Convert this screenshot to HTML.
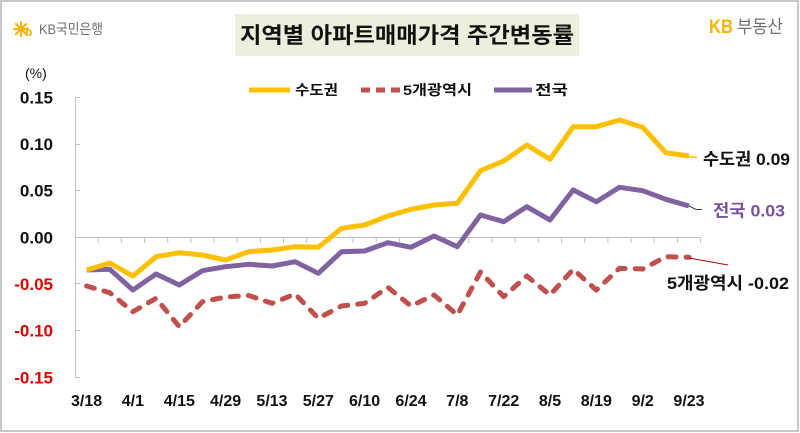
<!DOCTYPE html>
<html><head><meta charset="utf-8">
<style>
html,body{margin:0;padding:0;background:#fff;}
svg{display:block;}
text{font-family:"Liberation Sans","Noto Sans CJK KR","NanumGothic",sans-serif;}
</style></head>
<body>
<svg width="800" height="433" viewBox="0 0 800 433" xmlns="http://www.w3.org/2000/svg">
<rect x="0" y="0" width="800" height="433" fill="#fff"/>
<rect x="1" y="1" width="797" height="430" fill="none" stroke="#c8c8c8" stroke-width="2"/>

<!-- KB logo -->
<g stroke="#f5b400" stroke-width="2" stroke-linecap="round" fill="none">
<line x1="21" y1="22" x2="21" y2="36"/>
<line x1="14" y1="29" x2="28" y2="29"/>
<line x1="16" y1="24" x2="26" y2="34"/>
<line x1="26" y1="24" x2="16" y2="34"/>
</g>
<text x="25" y="36" font-size="12" fill="#f5b400" font-weight="bold">b</text>
<text x="39" y="34" font-size="14" fill="#6f6f6f" textLength="64" lengthAdjust="spacingAndGlyphs">KB국민은행</text>

<!-- Title -->
<rect x="235" y="14" width="344" height="42" fill="#ebefdc"/>
<text x="240" y="43" font-size="22" font-weight="bold" fill="#111" textLength="334" lengthAdjust="spacingAndGlyphs">지역별 아파트매매가격 주간변동률</text>

<!-- KB부동산 -->
<text x="709" y="33" font-size="19" font-weight="bold" fill="#f5b400" textLength="24" lengthAdjust="spacingAndGlyphs">KB</text>
<text x="737" y="33" font-size="18" fill="#6f6f6f" textLength="46" lengthAdjust="spacingAndGlyphs">부동산</text>

<!-- (%) -->
<text x="25" y="78" font-size="14" fill="#111">(%)</text>

<!-- Legend -->
<line x1="249" y1="90" x2="290" y2="90" stroke="#fcc000" stroke-width="5"/>
<text x="295" y="95" font-size="14" font-weight="bold" fill="#111" textLength="43" lengthAdjust="spacingAndGlyphs">수도권</text>
<line x1="361" y1="90" x2="400" y2="90" stroke="#c0504d" stroke-width="5" stroke-dasharray="9 6"/>
<text x="403" y="95" font-size="14" font-weight="bold" fill="#111" textLength="69" lengthAdjust="spacingAndGlyphs">5개광역시</text>
<line x1="494" y1="90" x2="532" y2="90" stroke="#7f63a1" stroke-width="5"/>
<text x="535" y="95" font-size="14" font-weight="bold" fill="#111" textLength="33" lengthAdjust="spacingAndGlyphs">전국</text>

<!-- Y axis -->
<g stroke="#bfbfbf" stroke-width="1" fill="none">
<line x1="75.5" y1="97" x2="75.5" y2="378"/>
<line x1="75.5" y1="97.5" x2="80" y2="97.5"/>
<line x1="75.5" y1="144.5" x2="80" y2="144.5"/>
<line x1="75.5" y1="190.5" x2="80" y2="190.5"/>
<line x1="75.5" y1="330.5" x2="80" y2="330.5"/>
<line x1="75.5" y1="377.5" x2="80" y2="377.5"/>
<line x1="75.5" y1="283.5" x2="80" y2="283.5"/>
<line x1="75" y1="237.5" x2="701" y2="237.5"/>
</g>
<g stroke="#bfbfbf" stroke-width="1">
<line x1="98.2" y1="237.5" x2="98.2" y2="243"/><line x1="121.3" y1="237.5" x2="121.3" y2="243"/>
<line x1="144.5" y1="237.5" x2="144.5" y2="243"/><line x1="167.7" y1="237.5" x2="167.7" y2="243"/>
<line x1="190.9" y1="237.5" x2="190.9" y2="243"/><line x1="214" y1="237.5" x2="214" y2="243"/>
<line x1="237.2" y1="237.5" x2="237.2" y2="243"/><line x1="260.4" y1="237.5" x2="260.4" y2="243"/>
<line x1="283.5" y1="237.5" x2="283.5" y2="243"/><line x1="306.7" y1="237.5" x2="306.7" y2="243"/>
<line x1="329.9" y1="237.5" x2="329.9" y2="243"/><line x1="353" y1="237.5" x2="353" y2="243"/>
<line x1="376.2" y1="237.5" x2="376.2" y2="243"/><line x1="399.4" y1="237.5" x2="399.4" y2="243"/>
<line x1="422.6" y1="237.5" x2="422.6" y2="243"/><line x1="445.7" y1="237.5" x2="445.7" y2="243"/>
<line x1="468.9" y1="237.5" x2="468.9" y2="243"/><line x1="492.1" y1="237.5" x2="492.1" y2="243"/>
<line x1="515.2" y1="237.5" x2="515.2" y2="243"/><line x1="538.4" y1="237.5" x2="538.4" y2="243"/>
<line x1="561.6" y1="237.5" x2="561.6" y2="243"/><line x1="584.7" y1="237.5" x2="584.7" y2="243"/>
<line x1="607.9" y1="237.5" x2="607.9" y2="243"/><line x1="631.1" y1="237.5" x2="631.1" y2="243"/>
<line x1="654.3" y1="237.5" x2="654.3" y2="243"/><line x1="677.4" y1="237.5" x2="677.4" y2="243"/>
<line x1="700.6" y1="237.5" x2="700.6" y2="243"/>
</g>

<!-- Y labels -->
<g font-size="17" font-weight="bold" text-anchor="end">
<text x="53" y="103.5" fill="#111">0.15</text>
<text x="53" y="150" fill="#111">0.10</text>
<text x="53" y="196.7" fill="#111">0.05</text>
<text x="53" y="243.3" fill="#111">0.00</text>
<text x="53" y="290" fill="#e00000">-0.05</text>
<text x="53" y="336.7" fill="#e00000">-0.10</text>
<text x="53" y="383.3" fill="#e00000">-0.15</text>
</g>

<!-- X labels -->
<g font-size="16" font-weight="bold" text-anchor="middle" fill="#111">
<text x="86.6" y="406">3/18</text>
<text x="132.9" y="406">4/1</text>
<text x="179.3" y="406">4/15</text>
<text x="225.6" y="406">4/29</text>
<text x="272" y="406">5/13</text>
<text x="318.3" y="406">5/27</text>
<text x="364.6" y="406">6/10</text>
<text x="411" y="406">6/24</text>
<text x="457.3" y="406">7/8</text>
<text x="503.7" y="406">7/22</text>
<text x="550" y="406">8/5</text>
<text x="596.3" y="406">8/19</text>
<text x="642.7" y="406">9/2</text>
<text x="689" y="406">9/23</text>
</g>

<!-- Series -->
<polyline fill="none" stroke="#c0504d" stroke-width="5" stroke-linejoin="round" stroke-linecap="round" stroke-dasharray="8 10"
points="86.6,286 109.8,292.7 132.9,311.7 156.1,298.3 179.3,326.7 202.4,301.7 225.6,297 248.8,295.5 272,303.3 295.1,294 318.3,318.3 341.5,306 364.6,303.3 387.8,287.3 411,306 434.1,295 457.3,315 480.5,272 503.7,296.7 526.8,276 550,295 573.2,269.3 596.3,290 619.5,268.3 642.7,269 665.8,256.7 689,257.3"/>
<polyline fill="none" stroke="#7f63a1" stroke-width="5" stroke-linejoin="round"
points="86.6,270 109.8,269.3 132.9,290 156.1,274 179.3,285 202.4,270.7 225.6,266.7 248.8,264.3 272,266 295.1,261.7 318.3,273.3 341.5,251.7 364.6,251 387.8,242.7 411,247.3 434.1,236 457.3,246.7 480.5,215 503.7,221.7 526.8,206.7 550,220 573.2,190 596.3,201.7 619.5,187.3 642.7,190.7 665.8,199.3 689,206"/>
<polyline fill="none" stroke="#fcc000" stroke-width="5" stroke-linejoin="round"
points="86.6,270 109.8,263 132.9,276 156.1,256.7 179.3,252.7 202.4,255 225.6,260 248.8,251.7 272,250 295.1,246.7 318.3,247.3 341.5,228.3 364.6,225 387.8,216 411,209.3 434.1,205 457.3,203.3 480.5,170.7 503.7,161 526.8,145 550,159.3 573.2,126.7 596.3,126.7 619.5,120 642.7,127.3 665.8,152.7 689,156"/>

<!-- Leader lines -->
<line x1="689" y1="156.5" x2="697" y2="157.5" stroke="#fcc000" stroke-width="1.5"/>
<polyline points="689,206 696,209.5 702,209.5" fill="none" stroke="#404040" stroke-width="1"/>
<line x1="689" y1="258" x2="728" y2="265" stroke="#c00000" stroke-width="1"/>

<!-- End labels -->
<text x="703" y="165" font-size="17" font-weight="bold" fill="#111" textLength="87" lengthAdjust="spacingAndGlyphs">수도권 0.09</text>
<text x="713" y="216.5" font-size="17" font-weight="bold" fill="#7b4fa0" textLength="72" lengthAdjust="spacingAndGlyphs">전국 0.03</text>
<text x="667" y="289" font-size="17" font-weight="bold" fill="#111" textLength="122" lengthAdjust="spacingAndGlyphs">5개광역시 -0.02</text>
</svg>
</body></html>
